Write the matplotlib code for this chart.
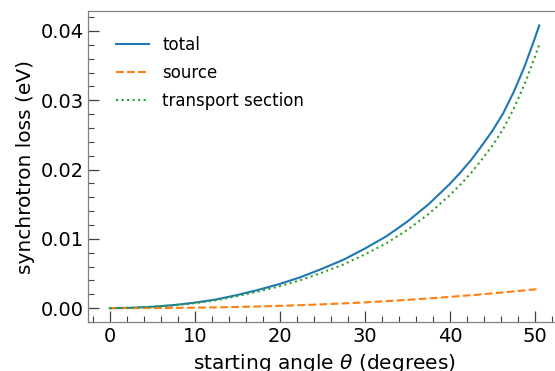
import matplotlib
matplotlib.use("Agg")
import matplotlib.pyplot as plt
from matplotlib.ticker import MultipleLocator, FormatStrFormatter

plt.rcParams["font.family"] = "DejaVu Sans"

# starting angle (degrees) and synchrotron loss (eV) per contribution
theta = [0, 2.5, 5, 7.5, 10, 12.5, 15, 17.5, 20, 22.5, 25, 27.5, 30,
         32.5, 35, 37.5, 40, 41.25, 42.5, 43.75, 45, 46.25, 47.5, 48.75,
         50, 50.5]
loss_total = [0.0, 0.00005, 0.0002, 0.00044, 0.00079, 0.00125, 0.0019,
              0.00265, 0.0035, 0.0045, 0.0057, 0.0070, 0.0086, 0.01035,
              0.0125, 0.0150, 0.01795, 0.0196, 0.0214, 0.02345, 0.0256,
              0.0281, 0.0312, 0.0348, 0.0390, 0.0408]
loss_source = [0.0, 0.000003, 0.000014, 0.000035, 0.000067, 0.000112,
               0.00017, 0.000243, 0.00033, 0.000433, 0.000552, 0.000687,
               0.000839, 0.001008, 0.001195, 0.001401, 0.001626, 0.00175,
               0.00187, 0.002, 0.00213, 0.00227, 0.00241, 0.00256,
               0.00271, 0.00278]
loss_transport = [0.0, 0.000047, 0.000186, 0.000405, 0.000723, 0.001138,
                  0.00173, 0.002407, 0.00317, 0.004067, 0.005148, 0.006313,
                  0.007761, 0.009342, 0.011305, 0.013599, 0.016324, 0.01785,
                  0.01953, 0.02145, 0.02347, 0.02583, 0.02879, 0.03224,
                  0.03629, 0.03802]

fig = plt.figure(figsize=(5.55, 3.71), dpi=100)
ax = fig.add_axes([0.1591, 0.1313, 0.8512, 0.8383])

ax.plot(theta, loss_total, color="#1f77b4", lw=1.5, label="total")
ax.plot(theta, loss_source, color="#ff7f0e", lw=1.5, ls="--", label="source")
ax.plot(theta, loss_transport, color="#2ca02c", lw=1.5, ls=":",
        label="transport section")

ax.set_xlabel(r"starting angle $\theta$ (degrees)", fontsize=14.5)
ax.set_ylabel("synchrotron loss (eV)", fontsize=14.5)

ax.xaxis.set_major_locator(MultipleLocator(10))
ax.xaxis.set_minor_locator(MultipleLocator(2))
ax.yaxis.set_major_locator(MultipleLocator(0.01))
ax.yaxis.set_minor_locator(MultipleLocator(0.002))
ax.yaxis.set_major_formatter(FormatStrFormatter("%.2f"))

ax.tick_params(which="both", direction="in", top=False, right=False,
               color="0.25", labelsize=14)
ax.tick_params(which="major", length=8, width=0.9)
ax.tick_params(which="minor", length=4, width=0.8)

for side in ("left", "bottom", "top"):
    ax.spines[side].set_color("0.5")
    ax.spines[side].set_linewidth(0.9)
ax.spines["right"].set_visible(False)

ax.legend(loc="upper left", bbox_to_anchor=(0.0436, 0.941), borderaxespad=0,
          frameon=False, fontsize=12, labelspacing=0.6)

fig.savefig("out.png", dpi=100)
